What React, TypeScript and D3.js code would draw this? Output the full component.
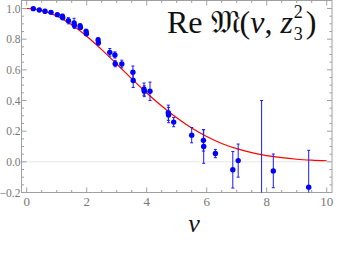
import * as React from 'react';
import { useEffect, useRef } from 'react';
import * as d3 from 'd3';

// lattice points: nu, value, error
const nuValues = [0.22, 0.42, 0.61, 0.81, 1.02, 1.19, 1.2, 1.39, 1.58, 1.59, 1.78, 1.79, 1.98, 1.99, 2.38, 2.39, 2.77, 2.94, 2.95, 3.17, 3.54, 3.55, 3.91, 3.92, 4.11, 4.72, 4.73, 4.9, 5.5, 5.89, 5.9, 6.29, 6.87, 7.05, 7.83, 8.22, 9.4];
const reValues = [0.999, 0.99, 0.982, 0.975, 0.96, 0.95, 0.94, 0.92, 0.906, 0.89, 0.886, 0.876, 0.85, 0.835, 0.795, 0.776, 0.714, 0.697, 0.64, 0.638, 0.585, 0.53, 0.474, 0.46, 0.46, 0.32, 0.305, 0.259, 0.174, 0.14, 0.1, 0.054, -0.052, 0.008, -0.25, -0.059, -0.165];
const errValues = [0.005, 0.006, 0.012, 0.006, 0.008, 0.012, 0.01, 0.02, 0.03, 0.02, 0.015, 0.012, 0.015, 0.012, 0.015, 0.015, 0.025, 0.02, 0.02, 0.025, 0.04, 0.045, 0.04, 0.035, 0.06, 0.05, 0.05, 0.03, 0.05, 0.07, 0.11, 0.027, 0.119, 0.108, 0.65, 0.11, 0.24];

// fitted curve
const fitNu = [0, 0.5, 1, 1.5, 2, 2.5, 3, 3.5, 4, 4.5, 5, 5.5, 6, 6.5, 7, 7.5, 8, 8.5, 9, 9.5, 10];
const fitRe = [1, 0.988, 0.951, 0.894, 0.819, 0.732, 0.638, 0.542, 0.449, 0.364, 0.287, 0.22, 0.165, 0.12, 0.086, 0.06, 0.041, 0.027, 0.017, 0.011, 0.007];

const xTicks = [0, 2, 4, 6, 8, 10];
const yTicks = [-0.2, 0, 0.2, 0.4, 0.6, 0.8, 1.0];

const W = 346;
const H = 260;

const App: React.FC = () => {
  const svgRef = useRef<SVGSVGElement>(null);

  useEffect(() => {
    if (!svgRef.current) return;
    const svg = d3.select(svgRef.current);
    svg.selectAll('*').remove();

    const frame = { left: 21.5, right: 332, top: 0.5, bottom: 192.5 };
    const x = d3.scaleLinear().domain([0, 10]).range([26.7, 326.7]);
    const y = d3.scaleLinear().domain([-0.2, 1.0]).range([192.5, 8.5]);

    const frameColor = '#a0a0a0';
    const labelColor = '#777777';

    svg.append('defs').append('clipPath').attr('id', 'plotclip')
      .append('rect')
      .attr('x', frame.left).attr('y', frame.top)
      .attr('width', frame.right - frame.left).attr('height', frame.bottom - frame.top);

    // zero line
    svg.append('line')
      .attr('x1', frame.left).attr('x2', frame.right)
      .attr('y1', y(0)).attr('y2', y(0))
      .attr('stroke', '#e6e6e6').attr('stroke-width', 1);

    // frame
    svg.append('rect')
      .attr('x', frame.left).attr('y', frame.top)
      .attr('width', frame.right - frame.left).attr('height', frame.bottom - frame.top)
      .attr('fill', 'none').attr('stroke', frameColor).attr('stroke-width', 1);

    // ticks, all four sides
    const xMinor = d3.range(0, 10.01, 0.5).filter(v => !xTicks.includes(v));
    const yMinor = d3.range(-0.2, 1.05, 0.05).map(v => Math.round(v * 100) / 100)
      .filter(v => !yTicks.some(t => Math.abs(t - v) < 1e-6));
    const ticks = svg.append('g').attr('stroke', frameColor).attr('stroke-width', 1);
    const addX = (vals: number[], len: number) => {
      vals.forEach(v => {
        ticks.append('line').attr('x1', x(v)).attr('x2', x(v)).attr('y1', frame.bottom).attr('y2', frame.bottom - len);
        ticks.append('line').attr('x1', x(v)).attr('x2', x(v)).attr('y1', frame.top).attr('y2', frame.top + len);
      });
    };
    const addY = (vals: number[], len: number) => {
      vals.forEach(v => {
        ticks.append('line').attr('y1', y(v)).attr('y2', y(v)).attr('x1', frame.left).attr('x2', frame.left + len);
        ticks.append('line').attr('y1', y(v)).attr('y2', y(v)).attr('x1', frame.right).attr('x2', frame.right - len);
      });
    };
    addX(xTicks, 5);
    addX(xMinor, 2.5);
    addY(yTicks, 5);
    addY(yMinor, 2.5);

    // tick labels
    svg.append('g').selectAll('text').data(xTicks).enter().append('text')
      .attr('x', d => x(d)).attr('y', frame.bottom + 13)
      .attr('text-anchor', 'middle')
      .attr('font-family', '"Liberation Serif", serif').attr('font-size', 13)
      .attr('fill', labelColor)
      .text(d => d3.format('d')(d));

    svg.append('g').selectAll('text').data(yTicks).enter().append('text')
      .attr('x', frame.left - 1).attr('y', d => y(d) + 4.2)
      .attr('text-anchor', 'end')
      .attr('font-family', '"Liberation Serif", serif').attr('font-size', 11.5)
      .attr('fill', labelColor)
      .text(d => d3.format('.1f')(d));

    const plot = svg.append('g').attr('clip-path', 'url(#plotclip)');

    // fit curve
    const line = d3.line<number>()
      .x((_, i) => x(fitNu[i]))
      .y(d => y(d))
      .curve(d3.curveMonotoneX);
    plot.append('path')
      .datum(fitRe)
      .attr('fill', 'none')
      .attr('stroke', '#ff0000')
      .attr('stroke-width', 1.2)
      .attr('d', line);

    // error bars
    const idx = d3.range(nuValues.length);
    const bars = plot.append('g').attr('stroke', '#1a1aff').attr('stroke-width', 1);
    idx.forEach(i => {
      const cx = x(nuValues[i]);
      const y0 = y(reValues[i] - errValues[i]);
      const y1 = y(reValues[i] + errValues[i]);
      bars.append('line').attr('x1', cx).attr('x2', cx).attr('y1', y0).attr('y2', y1);
      bars.append('line').attr('x1', cx - 1.5).attr('x2', cx + 1.5).attr('y1', y0).attr('y2', y0);
      bars.append('line').attr('x1', cx - 1.5).attr('x2', cx + 1.5).attr('y1', y1).attr('y2', y1);
    });

    plot.append('g').selectAll('circle').data(idx).enter().append('circle')
      .attr('cx', i => x(nuValues[i]))
      .attr('cy', i => y(reValues[i]))
      .attr('r', 2.7)
      .attr('fill', '#0000ff');

    // title
    const tf = '"Liberation Serif", "DejaVu Serif", serif';
    const title = svg.append('text')
      .attr('x', 167).attr('y', 33)
      .attr('font-family', tf).attr('font-size', 32).attr('fill', '#111');
    title.append('tspan').text('Re ');
    title.append('tspan').text('\u{1D510}');
    title.append('tspan').text('(');
    title.append('tspan').attr('font-style', 'italic').text('\u03BD');
    title.append('tspan').text(', ');
    title.append('tspan').attr('font-style', 'italic').text('z');
    const tnode = title.node() as SVGTextElement;
    const tw = tnode.getComputedTextLength();
    const sx = 167 + tw + 1;
    svg.append('text').attr('x', sx).attr('y', 18)
      .attr('font-family', tf).attr('font-size', 18).attr('fill', '#111').text('2');
    svg.append('text').attr('x', sx).attr('y', 40)
      .attr('font-family', tf).attr('font-size', 18).attr('fill', '#111').text('3');
    svg.append('text').attr('x', sx + 12).attr('y', 33)
      .attr('font-family', tf).attr('font-size', 32).attr('fill', '#111').text(')');

    // x label
    svg.append('text')
      .attr('x', 194).attr('y', 232)
      .attr('text-anchor', 'middle')
      .attr('font-family', tf).attr('font-style', 'italic').attr('font-size', 26)
      .attr('fill', '#111')
      .text('\u03BD');
  }, []);

  return (
    <svg
      ref={svgRef}
      width={W}
      height={H}
      viewBox={`0 0 ${W} ${H}`}
      style={{ position: 'absolute', left: 0, top: 0, background: '#fff' }}
    />
  );
};

export default App;
